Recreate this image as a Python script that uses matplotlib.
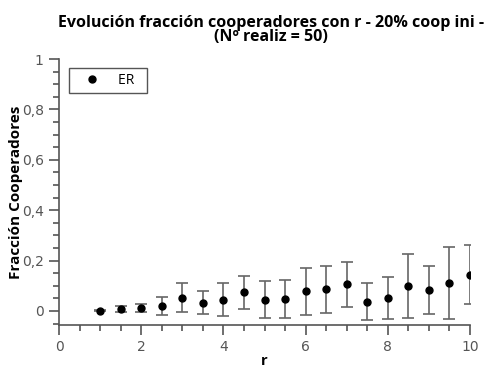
import matplotlib.pyplot as plt
from matplotlib.lines import Line2D
from matplotlib.ticker import MultipleLocator, FuncFormatter

r = [1, 1.5, 2, 2.5, 3, 3.5, 4, 4.5, 5, 5.5, 6, 6.5, 7, 7.5, 8, 8.5, 9, 9.5, 10]
frac_coop = [0.001, 0.009, 0.012, 0.021, 0.052, 0.033, 0.044, 0.074, 0.044, 0.048,
             0.078, 0.086, 0.106, 0.036, 0.052, 0.098, 0.082, 0.110, 0.144]
desv = [0.002, 0.012, 0.016, 0.036, 0.057, 0.045, 0.065, 0.066, 0.074, 0.075,
        0.093, 0.094, 0.090, 0.074, 0.083, 0.128, 0.096, 0.143, 0.116]

gris = '#555555'
plt.rcParams['font.family'] = ['Open Sans', 'DejaVu Sans']

fig = plt.figure(figsize=(4.84, 3.67), dpi=100)
ax = fig.add_axes([0.122, 0.1144, 0.849, 0.7248])

ax.errorbar(r, frac_coop, yerr=desv, fmt='o', color='black', ms=5,
            ecolor='#666666', elinewidth=1.2, capsize=4, capthick=1.2)

ax.set_xlim(0, 10)
ax.set_ylim(-0.056, 1.0)
ax.xaxis.set_major_locator(MultipleLocator(2))
ax.xaxis.set_minor_locator(MultipleLocator(0.5))
ax.yaxis.set_major_locator(MultipleLocator(0.2))
ax.yaxis.set_minor_locator(MultipleLocator(0.05))
coma = FuncFormatter(lambda v, p: ('%g' % round(v, 2)).replace('.', ','))
ax.yaxis.set_major_formatter(coma)

for s in ['top', 'right']:
    ax.spines[s].set_visible(False)
for s in ['left', 'bottom']:
    ax.spines[s].set_color(gris)
    ax.spines[s].set_linewidth(1.2)

ax.tick_params(which='major', length=7, width=1.2, color=gris, labelcolor=gris,
               labelsize=10, pad=4)
ax.tick_params(which='minor', length=4, width=1.2, color=gris)
for lbl in ax.get_xticklabels() + ax.get_yticklabels():
    lbl.set_family('DejaVu Sans')

ax.set_xlabel('r', fontweight='bold', fontsize=10.5, labelpad=0)
ax.set_ylabel('Fracción Cooperadores', fontweight='bold', fontsize=11, labelpad=-1)
ax.set_title('Evolución fracción cooperadores con r - 20% coop ini -\n(Nº realiz = 50)',
             fontweight='bold', fontsize=11.5, linespacing=0.85, pad=13, x=0.515)

# legend shows only the marker, no error bar
proxy = Line2D([], [], ls='none', marker='o', color='black', ms=5)
leg = ax.legend([proxy], ['ER  '], loc='upper left', bbox_to_anchor=(0.024, 0.966),
                fancybox=False, edgecolor=gris, framealpha=1, fontsize=10,
                handletextpad=0.6, borderpad=0.35, handlelength=2.6,
                borderaxespad=0)
leg.get_frame().set_linewidth(1.0)

fig.savefig('out.png', dpi=100)
